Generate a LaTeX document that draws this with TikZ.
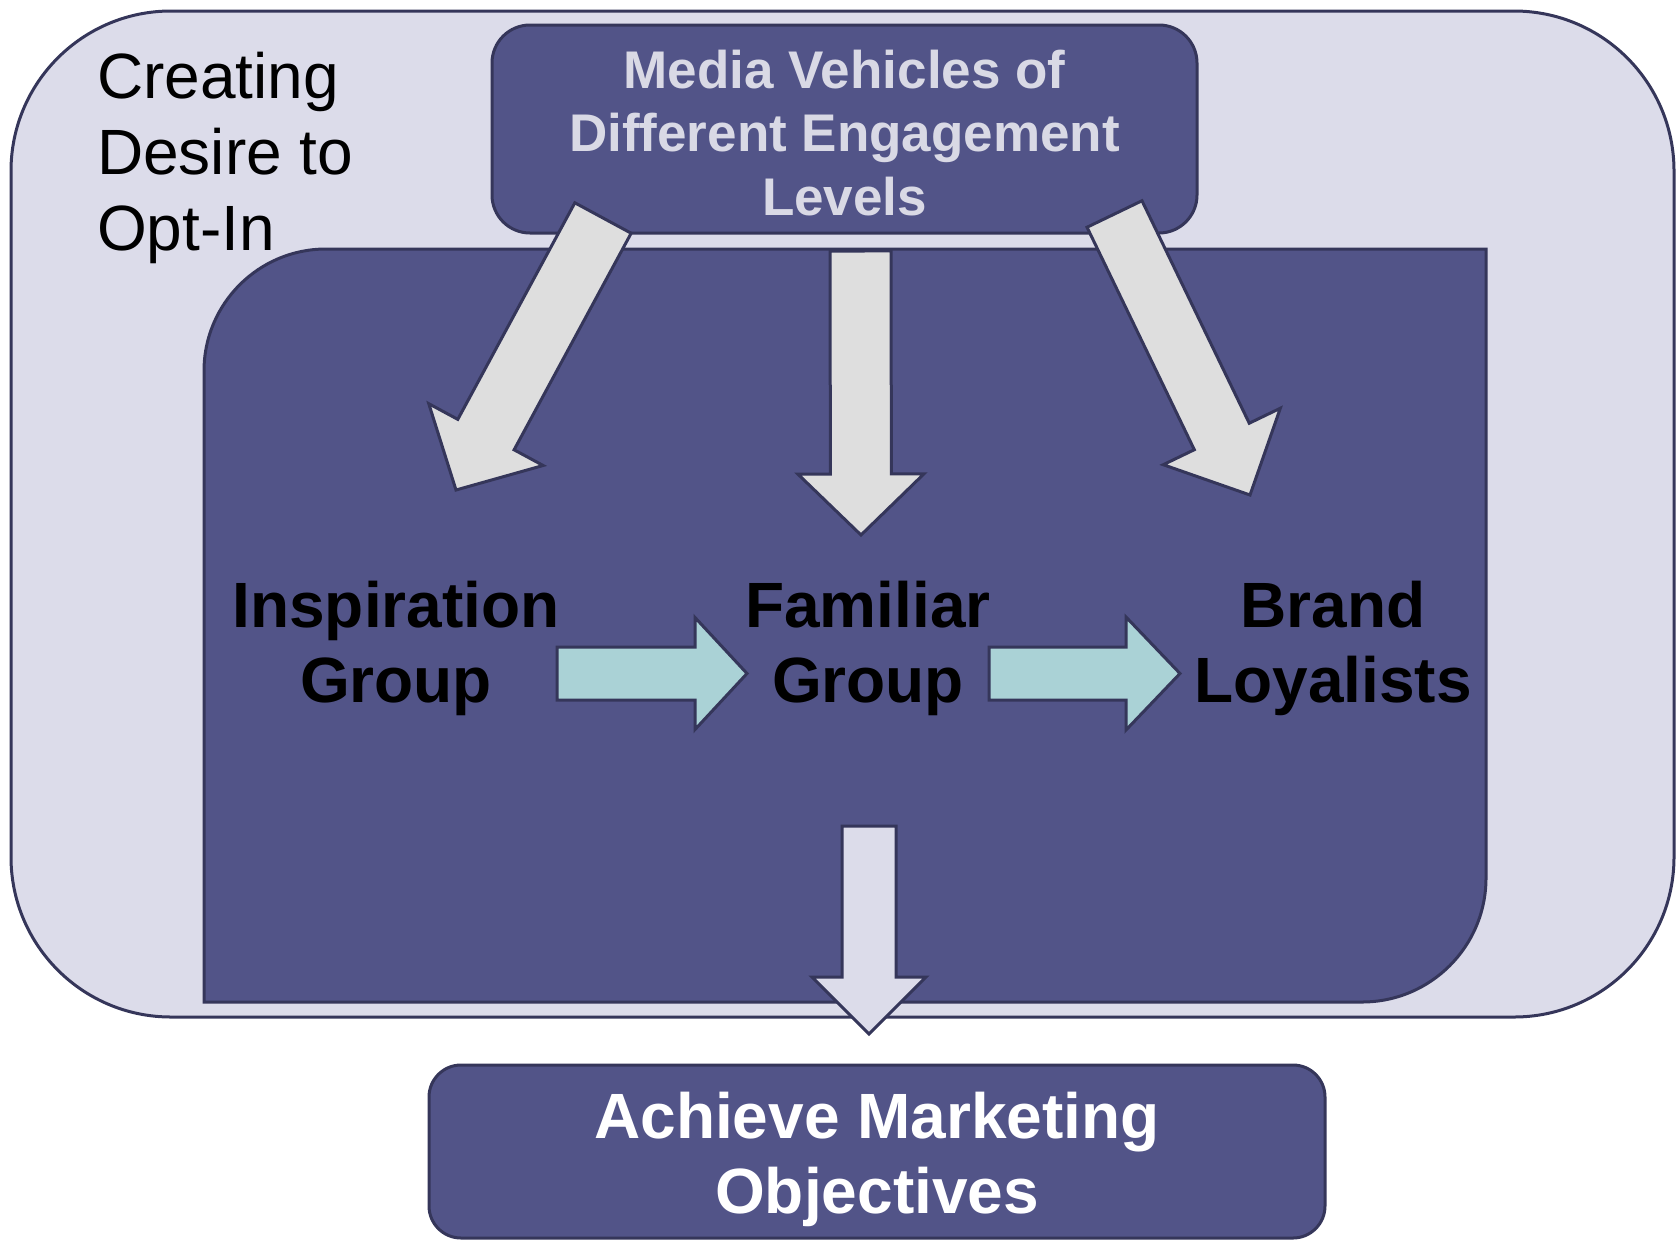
\documentclass[tikz,border=0pt]{standalone}
\usepackage{fontspec}
\setmainfont{Liberation Sans}
\usetikzlibrary{calc}
\definecolor{outerfill}{HTML}{DCDCEA}
\definecolor{boxfill}{HTML}{525488}
\definecolor{edgecol}{HTML}{35365A}
\definecolor{grayarrow}{HTML}{DEDEDE}
\definecolor{tealarrow}{HTML}{AAD2D6}
\definecolor{mediatext}{HTML}{D9D9E5}
\tikzset{
  outline/.style={draw=edgecol, line width=3pt, line join=miter},
  bigbox/.style={outline, fill=boxfill, inner sep=0pt},
  lbl/.style={inner sep=0pt, align=center, anchor=north},
  bigbold/.style={font=\fontsize{64}{75}\selectfont\bfseries},
  grayarr/.style={outline, fill=grayarrow},
  tealarr/.style={outline, fill=tealarrow},
  lavarr/.style={outline, fill=outerfill},
}
% block arrow: #1 style, #2 tail, #3 tip, #4 half shaft, #5 half head, #6 head length
\newcommand\blockarr[6]{%
  \coordinate (hb) at ($(#3)!#6!(#2)$);
  \draw[#1] ($(#2)!#4!90:(#3)$) -- ($(hb)!#4!90:(#3)$) -- ($(hb)!#5!90:(#3)$)
    -- (#3) -- ($(hb)!#5!-90:(#3)$) -- ($(hb)!#4!-90:(#3)$) -- ($(#2)!#4!-90:(#3)$) -- cycle;
}
\begin{document}
\begin{tikzpicture}[x=1pt,y=-1pt]
\useasboundingbox (0,0) rectangle (1677,1240);
% outer region
\node[outline, fill=outerfill, rounded corners=160pt, minimum width=1663pt, minimum height=1006pt, inner sep=0pt] (outer) at (842.5,514) {};
% media box
\node[bigbox, rounded corners=38pt, minimum width=705pt, minimum height=208pt] (media) at (844.5,129) {};
% inner region
\draw[outline, fill=boxfill] (204,1002) -- (204,371) arc (180:270:122) -- (1486,249) -- (1486,878) arc (0:90:124) -- cycle;
% achieve box
\node[bigbox, rounded corners=32pt, minimum width=896pt, minimum height=173pt] (achieve) at (877,1151.5) {};

% texts
\node[inner sep=0pt, align=left, anchor=north west, font=\fontsize{64}{76}\selectfont] (creating) at (97,52) {Creating\\Desire to\\Opt-In};
\node[lbl, text=mediatext, font=\fontsize{53}{63.5}\selectfont\bfseries] (mediatxt) at (844.5,49.5) {Media Vehicles of\\Different Engagement\\Levels};
\node[lbl, bigbold] (insp) at (396,581) {Inspiration\\Group};
\node[lbl, bigbold] (fam) at (868,581) {Familiar\\Group};
\node[lbl, bigbold] (brand) at (1333,581) {Brand\\Loyalists};
\node[lbl, bigbold, text=white] (achtxt) at (877,1092) {Achieve Marketing\\Objectives};

% arrows from media box
\coordinate (t1) at (603,218);   \coordinate (p1) at (456,490);
\coordinate (t2) at (860.5,251); \coordinate (p2) at (861,535);
\coordinate (t3) at (1114.5,214);\coordinate (p3) at (1250,495);
\blockarr{grayarr}{t1}{p1}{32pt}{65pt}{63pt}
\blockarr{grayarr}{t2}{p2}{30.5pt}{63pt}{61pt}
\blockarr{grayarr}{t3}{p3}{30.5pt}{65pt}{65pt}
% horizontal arrows
\coordinate (t4) at (557,673.5); \coordinate (p4) at (747,673.5);
\coordinate (t5) at (989,673.5); \coordinate (p5) at (1180,673.5);
\blockarr{tealarr}{t4}{p4}{26.5pt}{56pt}{52pt}
\blockarr{tealarr}{t5}{p5}{26.5pt}{56.5pt}{54pt}
% arrow to achieve
\coordinate (t6) at (869,826); \coordinate (p6) at (869,1034);
\blockarr{lavarr}{t6}{p6}{27pt}{57pt}{57pt}
\end{tikzpicture}
\end{document}
